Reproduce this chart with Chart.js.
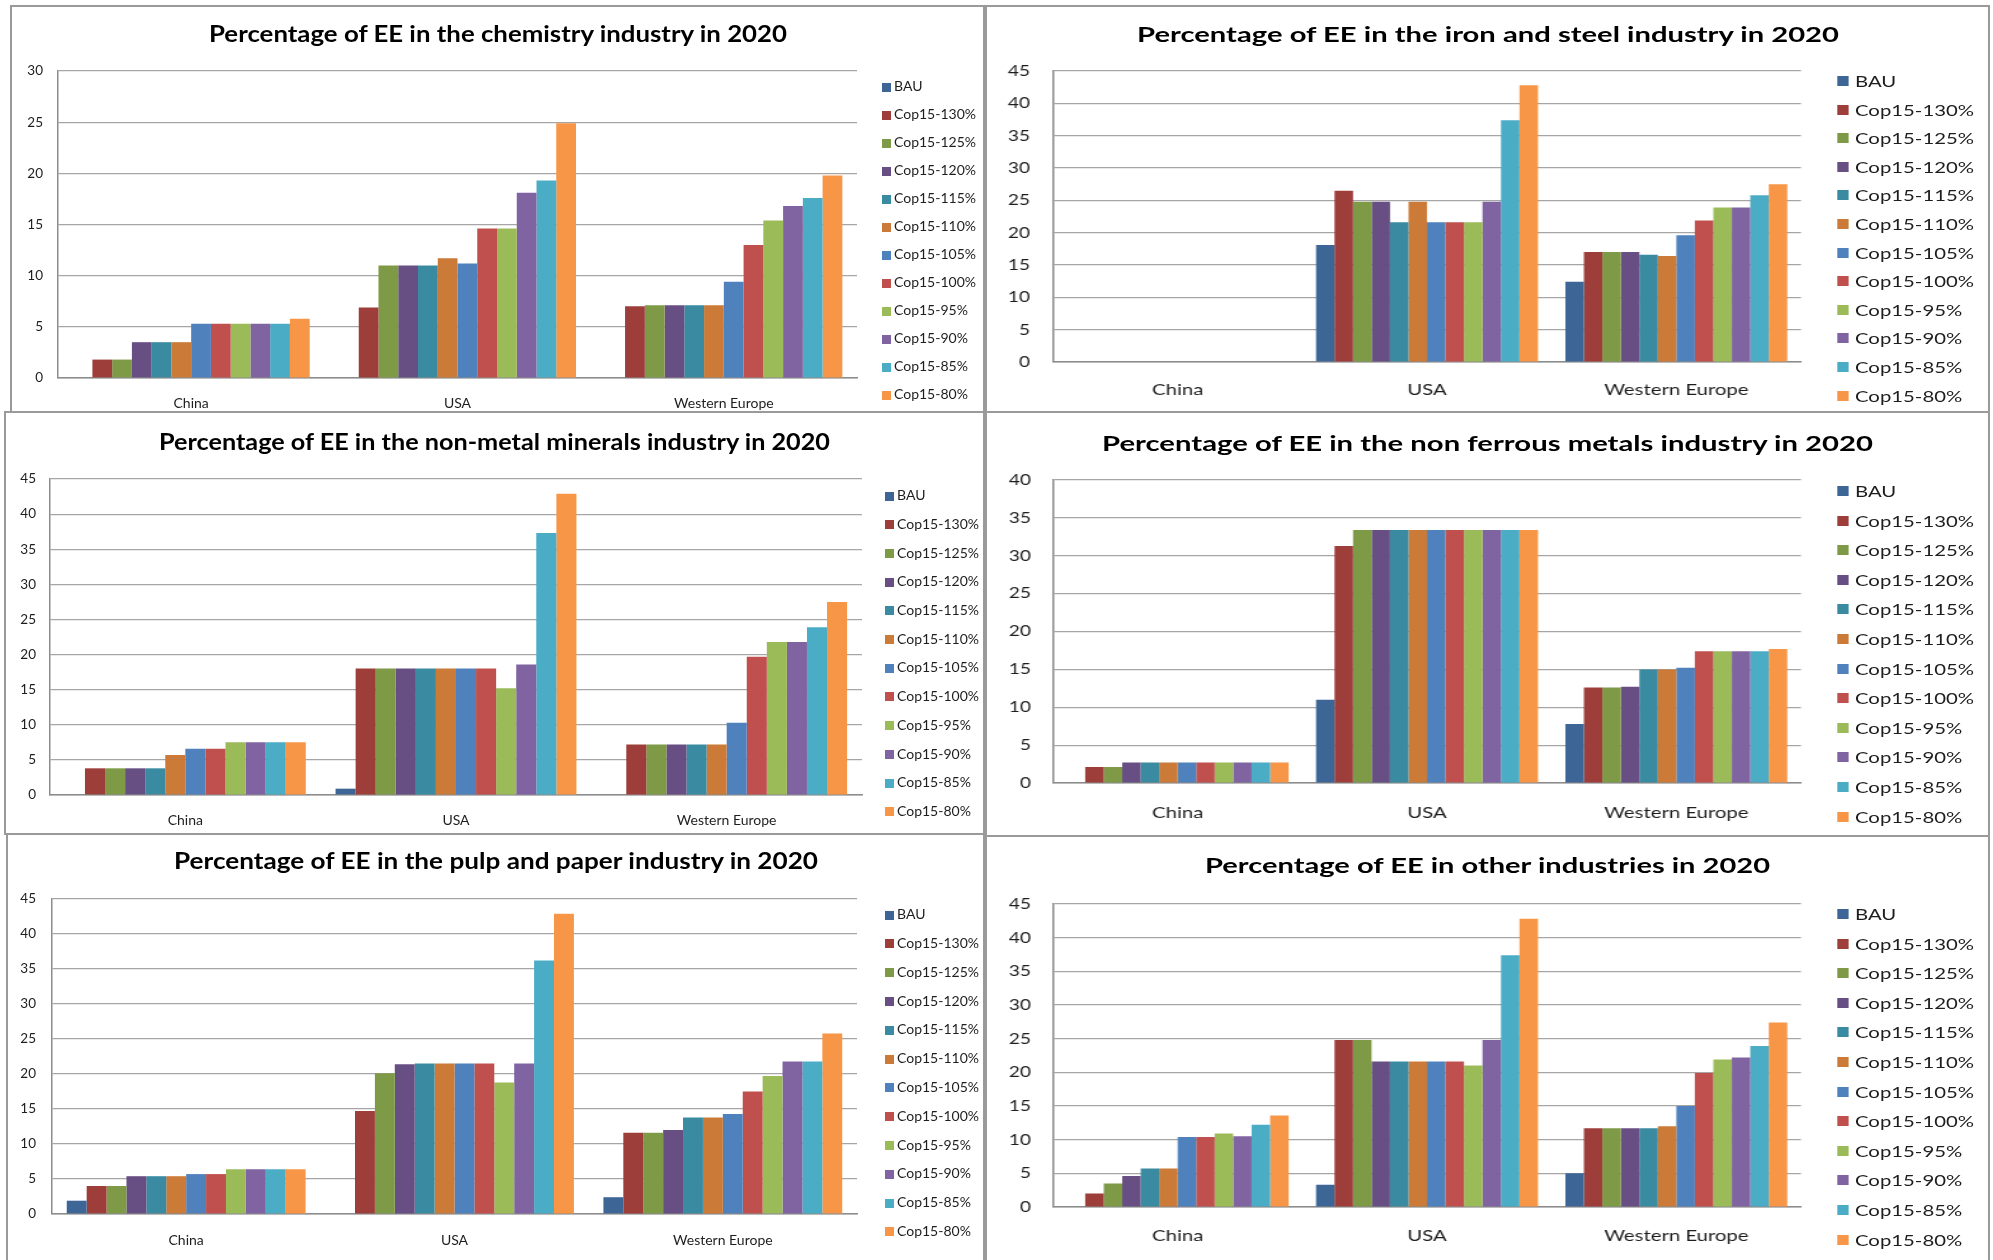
<!DOCTYPE html>
<html>
<head>
<meta charset="utf-8">
<title>Percentage of EE by industry in 2020</title>
<script src="https://cdn.jsdelivr.net/npm/chart.js@4.4.1/dist/chart.umd.min.js"></script>
<style>
  html, body { margin: 0; padding: 0; background: #ffffff; }
  body { position: relative; width: 1993px; height: 1260px; overflow: hidden; font-family: Lato, "Open Sans", sans-serif; }
  .stage { position: absolute; transform-origin: 0 0; }
  .stage canvas { position: absolute; left: 0; top: 0; }
  .frame { position: absolute; box-sizing: border-box; border: 2px solid #9a9a9a; pointer-events: none; }
  .title { position: absolute; white-space: nowrap; font-weight: 700; color: #000; transform-origin: 0 0; }
  .item { position: absolute; white-space: nowrap; color: #1e1e1e; }
  .swatch { position: absolute; }
</style>
</head>
<body>
<script>
// Regions on the category axis and the scenario series
const categories = ['China', 'USA', 'Western Europe'];
const scenarios = ['BAU', 'Cop15-130%', 'Cop15-125%', 'Cop15-120%', 'Cop15-115%', 'Cop15-110%',
                   'Cop15-105%', 'Cop15-100%', 'Cop15-95%', 'Cop15-90%', 'Cop15-85%', 'Cop15-80%'];
const scenarioColors = ['#3d6697', '#9d3e3b', '#7f9a47', '#674f83', '#3a8ba2', '#cb7b37',
                        '#4f81bd', '#c0504d', '#9bbb59', '#8064a2', '#4bacc6', '#f79646'];

// Chemistry industry (%), one value per scenario
const chemistryChina = [0, 1.8, 1.8, 3.5, 3.5, 3.5, 5.3, 5.3, 5.3, 5.3, 5.3, 5.8];
const chemistryUSA = [0, 6.9, 11.0, 11.0, 11.0, 11.7, 11.2, 14.6, 14.6, 18.1, 19.3, 24.9];
const chemistryWesternEurope = [0, 7.0, 7.1, 7.1, 7.1, 7.1, 9.4, 13.0, 15.4, 16.8, 17.6, 19.8];

// Iron and steel industry (%)
const steelChina = [0, 0, 0, 0, 0, 0, 0, 0, 0, 0, 0, 0];
const steelUSA = [18.1, 26.5, 24.8, 24.8, 21.6, 24.8, 21.6, 21.6, 21.6, 24.8, 37.4, 42.8];
const steelWesternEurope = [12.4, 17.0, 17.0, 17.0, 16.6, 16.4, 19.6, 21.9, 23.9, 23.9, 25.8, 27.5];

// Non-metal minerals industry (%)
const mineralsChina = [0, 3.8, 3.8, 3.8, 3.8, 5.7, 6.6, 6.6, 7.5, 7.5, 7.5, 7.5];
const mineralsUSA = [0.9, 18.0, 18.0, 18.0, 18.0, 18.0, 18.0, 18.0, 15.2, 18.6, 37.3, 42.9];
const mineralsWesternEurope = [0, 7.2, 7.2, 7.2, 7.2, 7.2, 10.3, 19.7, 21.8, 21.8, 23.9, 27.5];

// Non ferrous metals industry (%)
const nonFerrousChina = [0, 2.1, 2.1, 2.7, 2.7, 2.7, 2.7, 2.7, 2.7, 2.7, 2.7, 2.7];
const nonFerrousUSA = [11.0, 31.3, 33.4, 33.4, 33.4, 33.4, 33.4, 33.4, 33.4, 33.4, 33.4, 33.4];
const nonFerrousWesternEurope = [7.8, 12.6, 12.6, 12.7, 15.0, 15.0, 15.2, 17.4, 17.4, 17.4, 17.4, 17.7];

// Pulp and paper industry (%)
const paperChina = [1.9, 4.0, 4.0, 5.4, 5.4, 5.4, 5.7, 5.7, 6.4, 6.4, 6.4, 6.4];
const paperUSA = [0, 14.7, 20.1, 21.4, 21.5, 21.5, 21.5, 21.5, 18.8, 21.5, 36.2, 42.9];
const paperWesternEurope = [2.4, 11.6, 11.6, 12.0, 13.8, 13.8, 14.3, 17.5, 19.7, 21.8, 21.8, 25.8];

// Other industries (%)
const otherChina = [0, 2.0, 3.5, 4.6, 5.7, 5.7, 10.4, 10.4, 10.9, 10.5, 12.2, 13.6];
const otherUSA = [3.3, 24.8, 24.8, 21.6, 21.6, 21.6, 21.6, 21.6, 21.0, 24.8, 37.4, 42.8];
const otherWesternEurope = [5.0, 11.7, 11.7, 11.7, 11.7, 12.0, 15.0, 19.9, 21.9, 22.2, 23.9, 27.4];

// Chart titles and value-axis maxima (ticks every 5)
const chartTitles = [
  'Percentage of EE in the chemistry industry in 2020',
  'Percentage of EE in the iron and steel industry in 2020',
  'Percentage of EE in the non-metal minerals industry in 2020',
  'Percentage of EE in the non ferrous metals industry in 2020',
  'Percentage of EE in the pulp and paper industry in 2020',
  'Percentage of EE in other industries in 2020'
];
const axisMax = [30, 45, 45, 40, 45, 45];
const axisStep = 5;

// Text styles: left column uses a compact face, right column is drawn narrow and widened
const styles = {
  left:  { stretch: 1,    tick: 13.5, cat: 14, legend: 14, title: 22, sw: 9,  sh: 9 },
  right: { stretch: 1.27, tick: 15,   cat: 16, legend: 16, title: 20, sw: 11, sh: 10 }
};

// Page placement of each panel: box [x, y, w, h], plot [left, right, top, bottom]
const panels = [
  { side: 'left',  box: [10, 5, 975, 406],   plot: [58, 857, 71, 378],     titleY: 35,  titleW: 578, yPad: 15, catY: 403,  legend: [882, 894, 87, 28] },
  { side: 'right', box: [985, 5, 1005, 406], plot: [1053, 1801, 71, 362],  titleY: 35,  titleW: 702, yPad: 23, catY: 390,  legend: [1837, 1855, 81, 28.6] },
  { side: 'left',  box: [4, 411, 981, 422],  plot: [50, 862, 479, 795],    titleY: 443, titleW: 671, yPad: 14, catY: 820,  legend: [885, 897, 496, 28.7] },
  { side: 'right', box: [985, 411, 1005, 424], plot: [1053, 1801, 480, 783], titleY: 444, titleW: 771, yPad: 22, catY: 813,  legend: [1837, 1855, 491, 29.6] },
  { side: 'left',  box: [6, 833, 979, 427],  plot: [52, 857, 899, 1214],   titleY: 862, titleW: 644, yPad: 16, catY: 1240, legend: [885, 897, 915, 28.8] },
  { side: 'right', box: [985, 835, 1005, 425], plot: [1053, 1801, 904, 1207], titleY: 866, titleW: 565, yPad: 22, catY: 1236, legend: [1837, 1855, 914, 29.6] }
];
const panelData = [
  [chemistryChina, chemistryUSA, chemistryWesternEurope],
  [steelChina, steelUSA, steelWesternEurope],
  [mineralsChina, mineralsUSA, mineralsWesternEurope],
  [nonFerrousChina, nonFerrousUSA, nonFerrousWesternEurope],
  [paperChina, paperUSA, paperWesternEurope],
  [otherChina, otherUSA, otherWesternEurope]
];

const CAP_CENTER = 0.627; // vertical centre of capitals within a Lato line box, in em

function addTitle(p, text, st) {
  const el = document.createElement('div');
  el.className = 'title';
  el.textContent = text;
  el.style.fontSize = st.title + 'px';
  el.style.lineHeight = (st.title * 1.2) + 'px';
  document.body.appendChild(el);
  const natural = el.getBoundingClientRect().width;
  const k = p.titleW / natural;
  const cx = p.box[0] + p.box[2] / 2;
  el.style.left = (cx - p.titleW / 2) + 'px';
  el.style.top = (p.titleY - CAP_CENTER * st.title) + 'px';
  el.style.transform = 'scaleX(' + k + ')';
}

function buildPanel(p, idx) {
  const st = styles[p.side];
  const s = st.stretch;
  const W = Math.round(p.box[2] / s);
  const H = p.box[3];
  const stage = document.createElement('div');
  stage.className = 'stage';
  stage.style.left = p.box[0] + 'px';
  stage.style.top = p.box[1] + 'px';
  stage.style.width = W + 'px';
  stage.style.height = H + 'px';
  stage.style.transform = 'scaleX(' + s + ')';
  const canvas = document.createElement('canvas');
  canvas.width = W;
  canvas.height = H;
  stage.appendChild(canvas);
  document.body.appendChild(stage);

  const plotL = (p.plot[0] - p.box[0]) / s;
  const plotR = (p.plot[1] - p.box[0]) / s;
  const plotT = p.plot[2] - p.box[1];
  const plotB = p.plot[3] - p.box[1];
  const regions = panelData[idx];

  const datasets = scenarios.map((name, i) => ({
    label: name,
    data: regions.map(r => r[i]),
    backgroundColor: scenarioColors[i],
    borderWidth: 0,
    categoryPercentage: 0.89,
    barPercentage: 1.0
  }));

  new Chart(canvas, {
    type: 'bar',
    data: { labels: categories, datasets },
    options: {
      responsive: false,
      animation: false,
      devicePixelRatio: 1,
      events: [],
      layout: { padding: { left: 0, right: W - plotR, top: plotT, bottom: 0 } },
      plugins: { legend: { display: false }, title: { display: false }, tooltip: { enabled: false } },
      scales: {
        x: {
          grid: { display: false, drawTicks: false },
          border: { display: true, color: '#8c8c8c', width: 1.5 },
          ticks: {
            color: '#1e1e1e',
            font: { family: 'Lato', size: st.cat },
            padding: (p.catY - p.plot[3]) - st.cat * 0.6,
            maxRotation: 0,
            autoSkip: false
          },
          afterFit(sc) { sc.height = H - plotB; }
        },
        y: {
          min: 0,
          max: axisMax[idx],
          ticks: {
            stepSize: axisStep,
            color: '#1e1e1e',
            font: { family: 'Lato', size: st.tick },
            padding: p.yPad / s
          },
          grid: { color: '#a6a6a6', lineWidth: 1.2, drawTicks: false },
          border: { display: true, color: '#8c8c8c', width: 1.5 },
          afterFit(sc) { sc.width = plotL; }
        }
      }
    }
  });

  // Legend column to the right of the plot
  const [swX, txX, y0, dy] = p.legend;
  scenarios.forEach((name, i) => {
    const cy = y0 + dy * i - p.box[1];
    const sw = document.createElement('div');
    sw.className = 'swatch';
    sw.style.left = ((swX - p.box[0]) / s) + 'px';
    sw.style.top = (cy - st.sh / 2) + 'px';
    sw.style.width = (st.sw / s) + 'px';
    sw.style.height = st.sh + 'px';
    sw.style.background = scenarioColors[i];
    stage.appendChild(sw);
    const tx = document.createElement('div');
    tx.className = 'item';
    tx.textContent = name;
    tx.style.fontSize = st.legend + 'px';
    tx.style.lineHeight = (st.legend * 1.2) + 'px';
    tx.style.left = ((txX - p.box[0]) / s) + 'px';
    tx.style.top = (cy - CAP_CENTER * st.legend) + 'px';
    stage.appendChild(tx);
  });

  addTitle(p, chartTitles[idx], st);

  const frame = document.createElement('div');
  frame.className = 'frame';
  frame.style.left = p.box[0] + 'px';
  frame.style.top = p.box[1] + 'px';
  frame.style.width = p.box[2] + 'px';
  frame.style.height = (p.box[3] + 2) + 'px';
  document.body.appendChild(frame);
}

Promise.all([
  document.fonts.load('700 22px Lato'),
  document.fonts.load('16px Lato')
]).catch(() => {}).then(() => {
  panels.forEach(buildPanel);
});
</script>
</body>
</html>
